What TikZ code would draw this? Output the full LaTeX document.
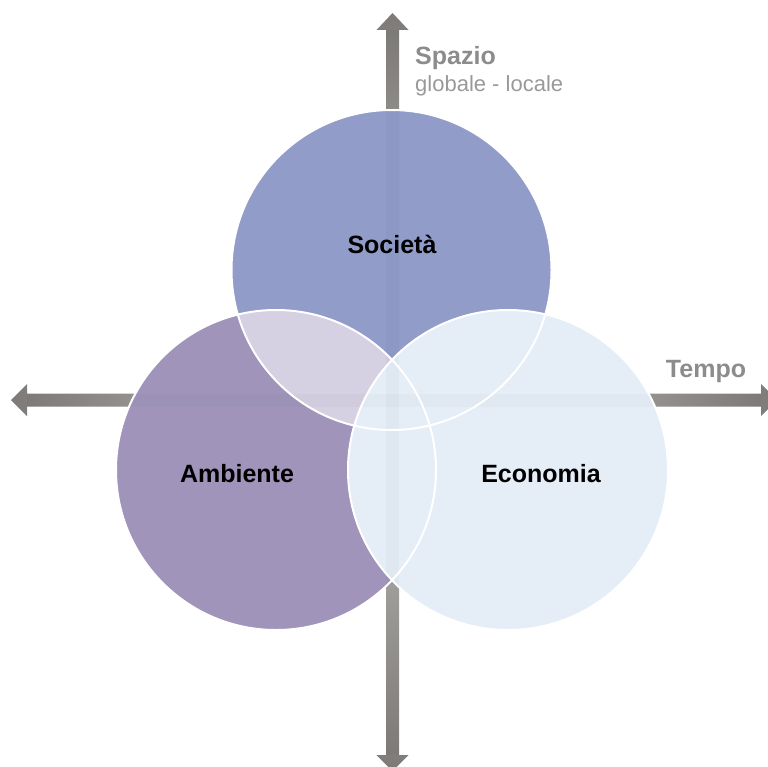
\documentclass[tikz,border=0pt]{standalone}
\usepackage{fontspec}
\setmainfont{Liberation Sans}
\usepackage{xcolor}
\definecolor{soccol}{HTML}{929CC9}
\definecolor{ambcol}{HTML}{A094BA}
\definecolor{ecocol}{HTML}{E5EDF7}
\definecolor{sacol}{HTML}{D5D0E2}
\definecolor{axdark}{HTML}{7D7A77}
\definecolor{axlight}{HTML}{CBCAC7}
\definecolor{labgray}{HTML}{8C8C8C}
\definecolor{subgray}{HTML}{999999}

\begin{document}
\begin{tikzpicture}[x=1pt, y=-1pt,
    vaxis/.style={top color=axdark, bottom color=axdark, middle color=axlight},
    haxis/.style={left color=axdark, right color=axdark, middle color=axlight},
    ring/.style={draw=white, line width=2pt},
    big/.style={font=\bfseries\fontsize{25}{30}\selectfont}]
    \useasboundingbox (0,0) rectangle (767,767);

    \coordinate (soc) at (391.5,270);
    \coordinate (amb) at (276,470);
    \coordinate (eco) at (508,470);
    \def\rad{160}

    % axes
    \path[vaxis] (392.5,13) -- (408.5,30) -- (399,30) -- (399,755) -- (408.5,755)
        -- (392.5,771) -- (376.5,755) -- (386,755) -- (386,30) -- (376.5,30) -- cycle;
    \path[haxis] (11,400) -- (27,384) -- (27,393.5) -- (761,393.5) -- (761,384)
        -- (777,400) -- (761,416) -- (761,406.5) -- (27,406.5) -- (27,416) -- cycle;

    % circles
    \fill[soccol] (soc) circle[radius=\rad];
    \fill[ambcol] (amb) circle[radius=\rad];
    \begin{scope}
        \clip (soc) circle[radius=\rad];
        \fill[sacol] (amb) circle[radius=\rad];
    \end{scope}
    \fill[ecocol] (eco) circle[radius=\rad];

    % faint axes through the circles
    \fill[black, opacity=0.025] (386,30) rectangle (399,755);
    \fill[black, opacity=0.02] (27,393.5) rectangle (761,406.5);

    \draw[ring] (soc) circle[radius=\rad];
    \draw[ring] (amb) circle[radius=\rad];
    \draw[ring] (eco) circle[radius=\rad];

    \node[big] (societa) at (392,244) {Società};
    \node[big] (ambiente) at (237,474) {Ambiente};
    \node[big] (economia) at (541,474) {Economia};

    \node[big, text=labgray, anchor=west, inner sep=0] (spazio) at (415,58) {Spazio};
    \node[font=\fontsize{22}{26}\selectfont, text=subgray, anchor=west, inner sep=0] (scala) at (415,86) {globale - locale};
    \node[big, text=labgray] (tempo) at (706,371) {Tempo};
\end{tikzpicture}
\end{document}
